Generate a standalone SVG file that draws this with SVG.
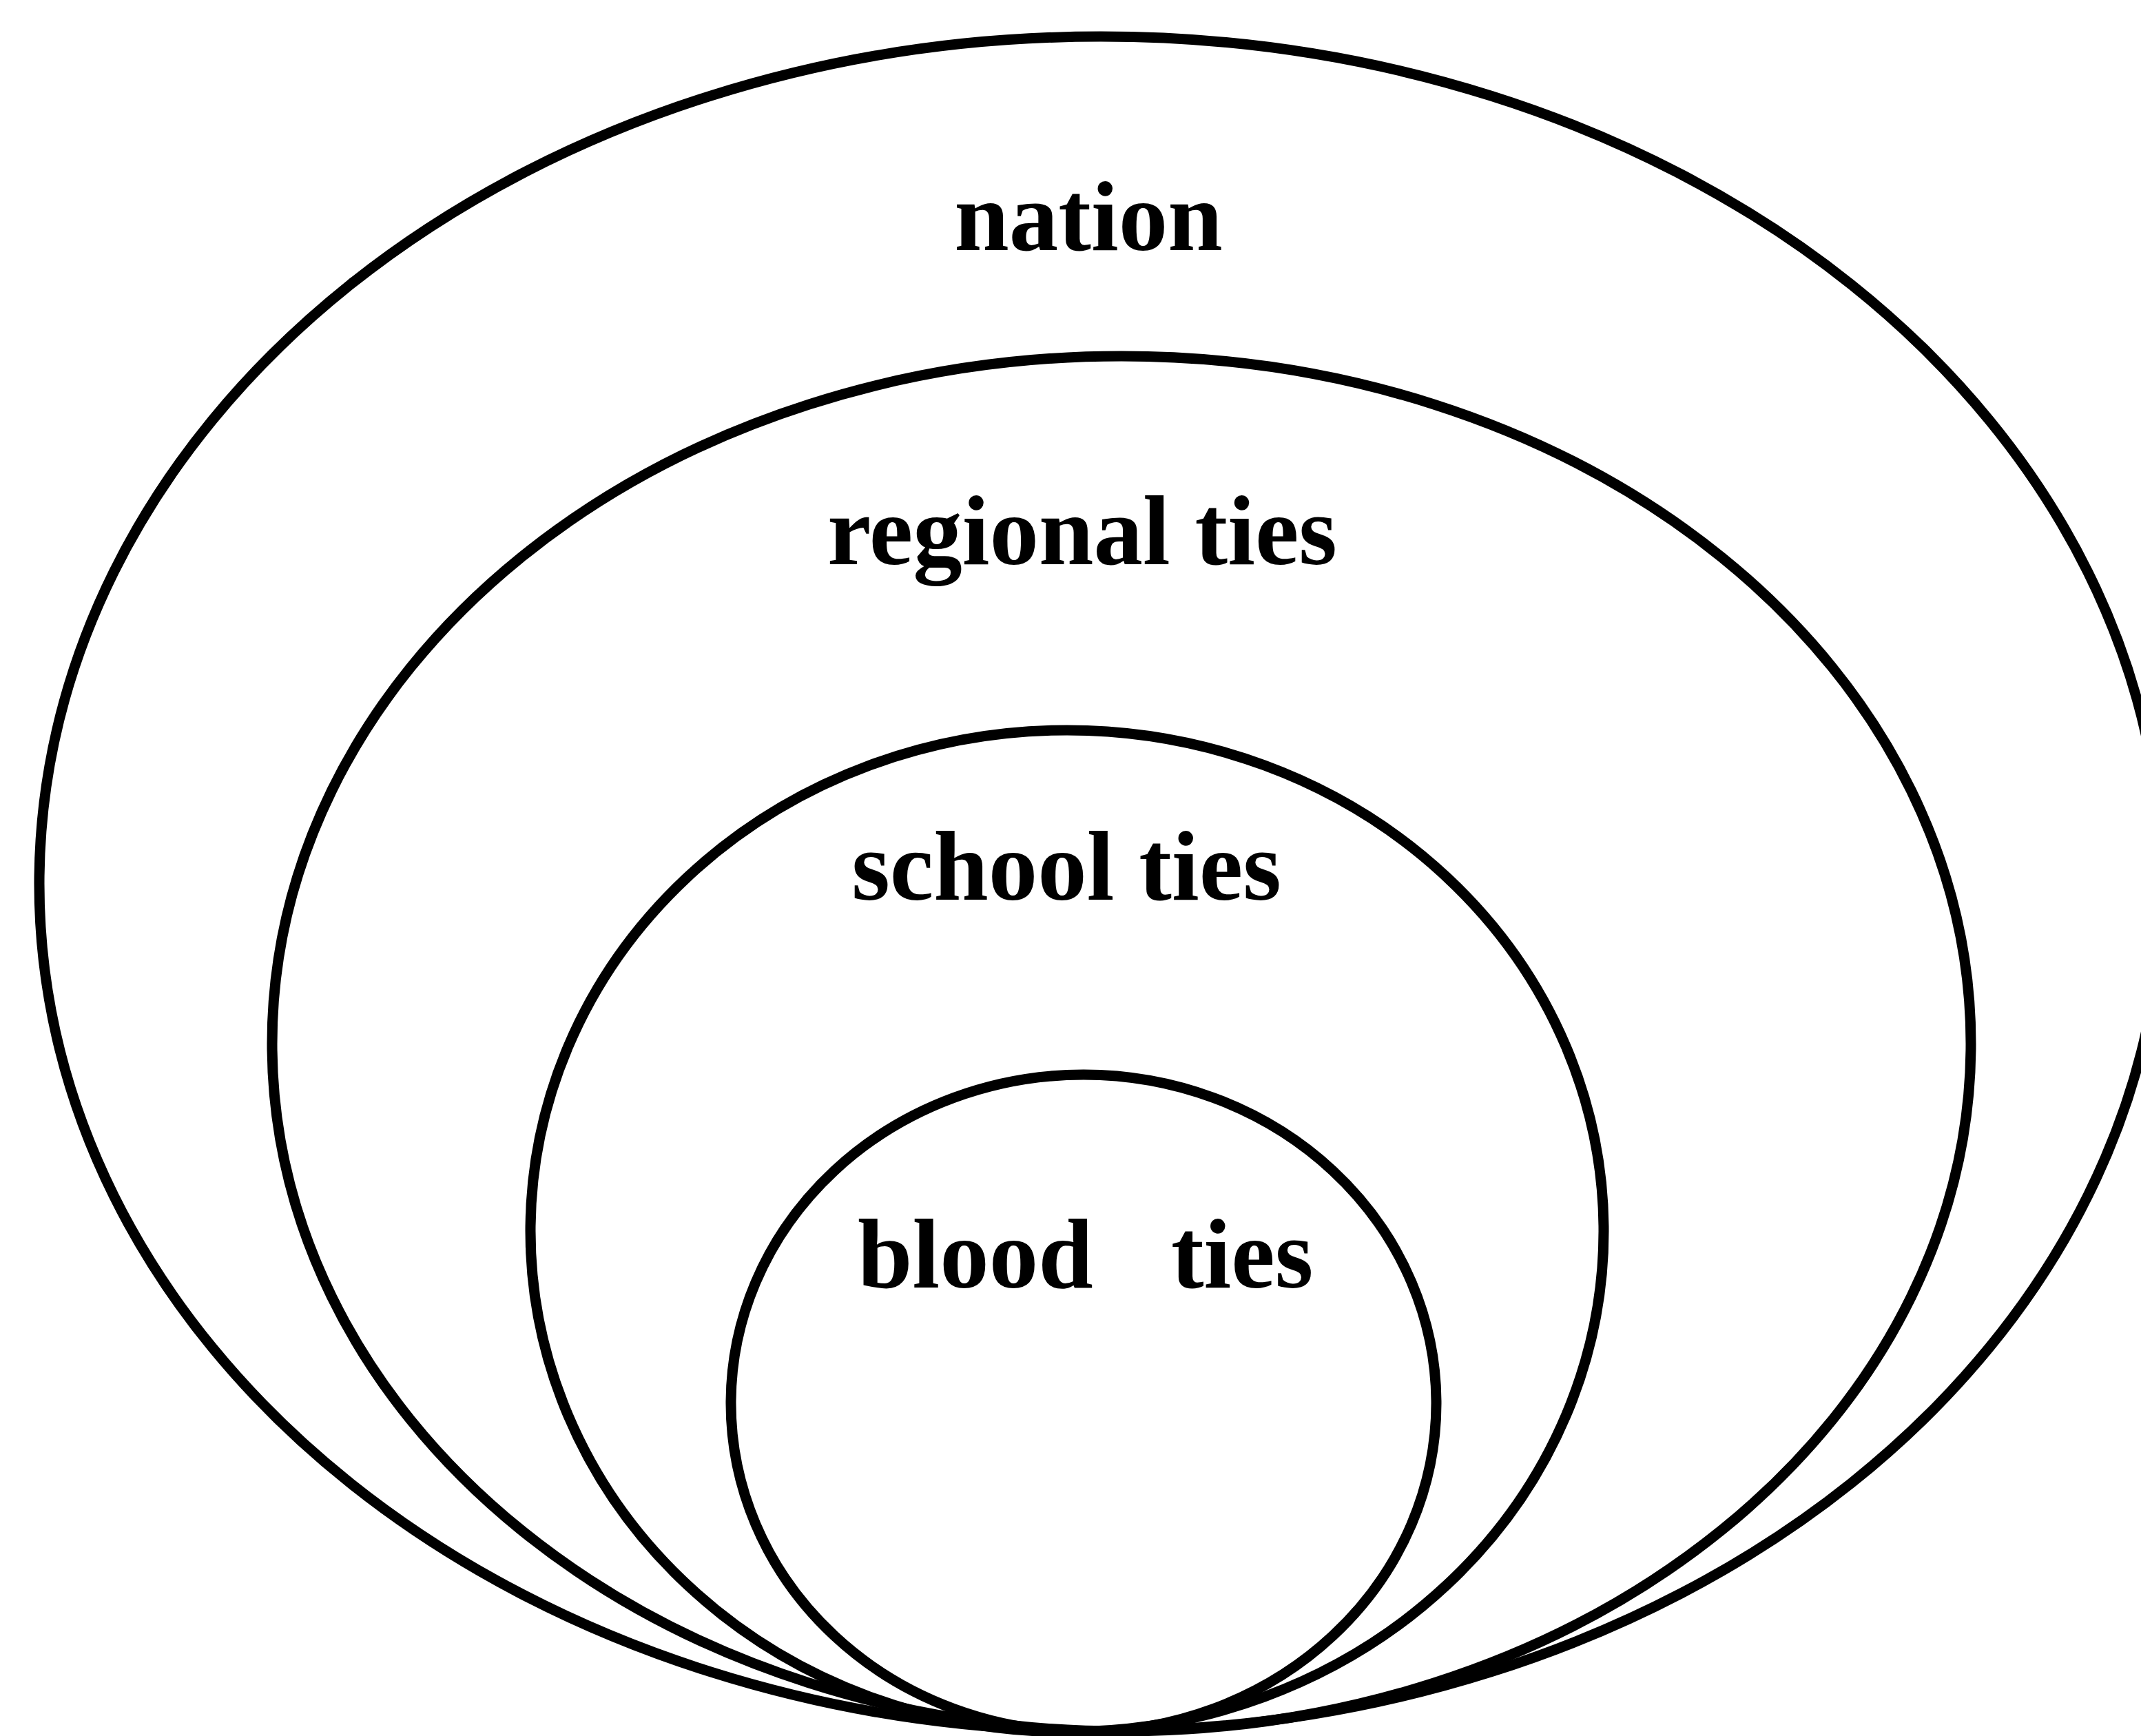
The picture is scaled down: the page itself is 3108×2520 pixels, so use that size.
<svg xmlns="http://www.w3.org/2000/svg" width="3108" height="2520" viewBox="0 0 3108 2520">
  <style>
    .ring { fill: none; stroke: #000; stroke-width: 15; }
    .label { font-family: "Liberation Serif", "Times New Roman", serif; font-weight: bold; font-size: 143px; fill: #000; }
  </style>
  <rect x="0" y="0" width="3108" height="2520" fill="#fff"/>

  <!-- nested circles of social ties -->
  <g id="nation">
    <ellipse class="ring" cx="1598" cy="1283" rx="1541" ry="1230"/>
    <text class="label" x="1580" y="363" text-anchor="middle">nation</text>
  </g>
  <g id="regional-ties">
    <ellipse class="ring" cx="1628" cy="1515" rx="1233" ry="998"/>
    <text class="label" x="1571" y="819" text-anchor="middle">regional ties</text>
  </g>
  <g id="school-ties">
    <ellipse class="ring" cx="1549" cy="1787" rx="779" ry="727"/>
    <text class="label" x="1548" y="1306" text-anchor="middle">school ties</text>
  </g>
  <g id="blood-ties">
    <ellipse class="ring" cx="1573" cy="2037" rx="512" ry="477"/>
    <text class="label" y="1869"><tspan x="1245">blood</tspan><tspan x="1700">ties</tspan></text>
  </g>

  <g id="connectors"/>
</svg>
